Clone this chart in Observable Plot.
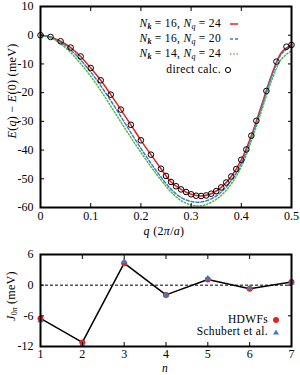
<!DOCTYPE html>
<html><head><meta charset="utf-8">
<script src="https://cdn.jsdelivr.net/npm/d3@7"></script>
<script src="https://cdn.jsdelivr.net/npm/@observablehq/plot@0.6"></script>
<style>
body{margin:0;background:#fff;}
#wrap{position:relative;width:300px;height:375px;font-family:"Liberation Serif",serif;color:#000;}
#wrap svg{display:block;}
.lbl{position:absolute;font-size:12px;white-space:nowrap;line-height:1;letter-spacing:0.3px;}
.rot{transform:translate(-50%,-50%) rotate(-90deg);}
.ctr{transform:translate(-50%,-50%);}
.leg{position:absolute;font-size:11.5px;white-space:pre;text-align:right;line-height:1;letter-spacing:0.35px;}
sub{font-size:8px;vertical-align:-2px;letter-spacing:0;}
</style></head><body><div id="wrap"></div>
<script>
// ---------- data ----------
const qGrid = [0,0.02,0.04,0.06,0.08,0.10,0.12,0.14,0.16,0.18,0.20,0.22,0.24,0.26,0.28,0.30,0.32,0.34,0.36,0.38,0.40,0.42,0.44,0.46,0.48,0.50];
const eRed   = [0,-0.6,-2.1,-4.3,-7.4,-11.4,-15.7,-20.7,-25.9,-31.2,-36.6,-41.6,-46.5,-51.1,-53.7,-55.4,-56.0,-55.2,-53.0,-49.2,-43.4,-35.0,-24.6,-14.0,-6.0,-3.4];
const eBlue  = [0,-0.7,-2.5,-5.1,-8.6,-12.8,-17.6,-22.8,-28.3,-33.9,-39.4,-44.6,-49.4,-53.6,-56.5,-57.9,-58.1,-57.0,-54.6,-50.6,-44.6,-35.8,-25.3,-14.6,-6.5,-3.8];
const eGreen = [0,-0.9,-3.0,-6.0,-9.9,-14.3,-19.3,-24.7,-30.2,-35.6,-40.8,-45.8,-50.4,-54.6,-57.6,-59.1,-59.4,-58.2,-55.8,-51.8,-45.8,-36.8,-26.5,-16.0,-8.3,-5.4];
const qDirect = [0,0.02,0.04,0.06,0.08,0.10,0.12,0.14,0.16,0.18,0.20,0.22,0.24,0.25,0.26,0.27,0.28,0.29,0.30,0.31,0.32,0.33,0.34,0.35,0.36,0.37,0.38,0.39,0.40,0.41,0.42,0.43,0.45,0.47,0.49,0.50];
const eDirect = [0,-0.6,-2.1,-4.3,-7.4,-11.4,-15.7,-20.7,-25.9,-31.2,-36.6,-41.6,-46.5,-49.0,-51.1,-52.6,-53.7,-54.6,-55.4,-55.9,-56.0,-55.8,-55.2,-54.3,-53.0,-51.3,-49.2,-46.6,-43.4,-39.8,-35.0,-29.8,-19.4,-9.2,-4.0,-3.4];
const nVals = [1,2,3,4,5,6,7];
const jHDWF = [-6.5,-11.2,4.3,-1.9,1.1,-0.7,0.6];
const jSchubert = [-6.9,-11.7,4.6,-1.9,1.3,-0.6,0.5];
const qTicks = [0,0.1,0.2,0.3,0.4,0.5];
const eTicks = [10,0,-10,-20,-30,-40,-50,-60];
const nTicks = [1,2,3,4,5,6,7];
const jTicks = [6,0,-6,-12];

const colRed = "#e8211c", colBlue = "#3b7dc4", colGreen = "#52b548";
const font = {fontFamily:"'Liberation Serif', serif", fontSize:"12px", color:"black", background:"white", overflow:"visible"};

const mk = (xs, ys) => xs.map((x,i)=>({x, y: ys[i]}));
const red = mk(qGrid, eRed), blue = mk(qGrid, eBlue), green = mk(qGrid, eGreen), direct = mk(qDirect, eDirect);
const hd = mk(nVals, jHDWF), sc = mk(nVals, jSchubert);
const fmt = d => String(d);

const topPlot = Plot.plot({
  width:300, height:232, marginLeft:40, marginRight:9, marginTop:6, marginBottom:25,
  style: font,
  x:{domain:[0,0.5], label:null}, y:{domain:[-60,10], label:null},
  marks:[
    Plot.line(red, {x:"x", y:"y", stroke:colRed, strokeWidth:1.5, curve:"catmull-rom"}),
    Plot.line(blue, {x:"x", y:"y", stroke:colBlue, strokeWidth:1.5, strokeDasharray:"3,2", curve:"catmull-rom"}),
    Plot.line(green, {x:"x", y:"y", stroke:colGreen, strokeWidth:1.5, strokeDasharray:"1.3,2", curve:"catmull-rom"}),
    Plot.dot(direct, {x:"x", y:"y", r:2.8, stroke:"black", strokeWidth:1, fill:"none"}),
    Plot.axisX(qTicks, {anchor:"bottom", tickSize:-4, tickPadding:8, tickFormat:fmt, label:null}),
    Plot.axisX(qTicks, {anchor:"top", tickSize:-4, tickFormat:()=>"", label:null}),
    Plot.axisY(eTicks, {anchor:"left", tickSize:-4, tickPadding:11, tickFormat:fmt, label:null}),
    Plot.axisY(eTicks, {anchor:"right", tickSize:-4, tickFormat:()=>"", label:null}),
    Plot.frame({stroke:"black", strokeWidth:2})
  ]
});

const botPlot = Plot.plot({
  width:300, height:143, marginLeft:40, marginRight:9, marginTop:22, marginBottom:29,
  style: font,
  x:{domain:[1,7], label:null}, y:{domain:[-12,6], label:null},
  marks:[
    Plot.ruleY([0], {stroke:"black", strokeWidth:1, strokeDasharray:"3,2"}),
    Plot.line(hd, {x:"x", y:"y", stroke:"black", strokeWidth:1.5}),
    Plot.dot(hd, {x:"x", y:"y", r:3, fill:colRed, stroke:"none"}),
    Plot.dot(sc, {x:"x", y:"y", r:2.4, symbol:"triangle", fill:colBlue, stroke:"none"}),
    Plot.axisX(nTicks, {anchor:"bottom", tickSize:-4, tickPadding:7, tickFormat:fmt, label:null}),
    Plot.axisX(nTicks, {anchor:"top", tickSize:-4, tickFormat:()=>"", label:null}),
    Plot.axisY(jTicks, {anchor:"left", tickSize:-4, tickPadding:11, tickFormat:fmt, label:null}),
    Plot.axisY(jTicks, {anchor:"right", tickSize:-4, tickFormat:()=>"", label:null}),
    Plot.frame({stroke:"black", strokeWidth:2})
  ]
});

const wrap = document.getElementById("wrap");
wrap.appendChild(topPlot);
wrap.appendChild(botPlot);

function addHTML(html, cls, style){
  const d = document.createElement("div");
  d.className = cls; d.innerHTML = html; Object.assign(d.style, style);
  wrap.appendChild(d); return d;
}
// axis titles
addHTML("<i>E</i>(<i>q</i>) − <i>E</i>(0) (meV)", "lbl rot", {left:"12px", top:"91px"});
addHTML("<i>q</i> (2<i>π</i>/<i>a</i>)", "lbl ctr", {left:"164px", top:"231px"});
addHTML("<i>J</i><sub>0<i>n</i></sub> (meV)", "lbl rot", {left:"12px", top:"296px"});
addHTML("<i>n</i>", "lbl ctr", {left:"165px", top:"369px", fontSize:"11.5px"});

// top legend
const legTop = [
  {t:"<i>N</i><sub><b><i>k</i></b></sub> = 16, <i>N</i><sub><i>q</i></sub> = 24", y:24},
  {t:"<i>N</i><sub><b><i>k</i></b></sub> = 16, <i>N</i><sub><i>q</i></sub> = 20", y:39},
  {t:"<i>N</i><sub><b><i>k</i></b></sub> = 14, <i>N</i><sub><i>q</i></sub> = 24", y:54},
  {t:"direct calc.", y:70}
];
legTop.forEach(e=>{
  addHTML(e.t, "leg", {right:(300-221)+"px", top:(e.y-6)+"px"});
});
const sw = document.createElementNS("http://www.w3.org/2000/svg","svg");
sw.setAttribute("width","300"); sw.setAttribute("height","375");
Object.assign(sw.style,{position:"absolute",left:"0",top:"0",pointerEvents:"none"});
let s = "";
s += `<line x1="230" x2="238" y1="24" y2="24" stroke="${colRed}" stroke-width="1.5"/>`;
s += `<line x1="230" x2="238" y1="39" y2="39" stroke="${colBlue}" stroke-width="1.5" stroke-dasharray="3,2"/>`;
s += `<line x1="230" x2="238" y1="54" y2="54" stroke="${colGreen}" stroke-width="1.5" stroke-dasharray="1.3,2"/>`;
s += `<circle cx="228" cy="70" r="2.6" fill="none" stroke="black" stroke-width="1"/>`;
s += `<circle cx="276" cy="320" r="3" fill="${colRed}"/>`;
s += `<path d="M276,329.5 L279,334.5 L273,334.5 Z" fill="${colBlue}"/>`;
sw.innerHTML = s;
wrap.appendChild(sw);
addHTML("HDWFs", "leg", {right:(300-268)+"px", top:"314px"});
addHTML("Schubert et al.", "leg", {right:(300-268)+"px", top:"326px"});
</script>
</body></html>
